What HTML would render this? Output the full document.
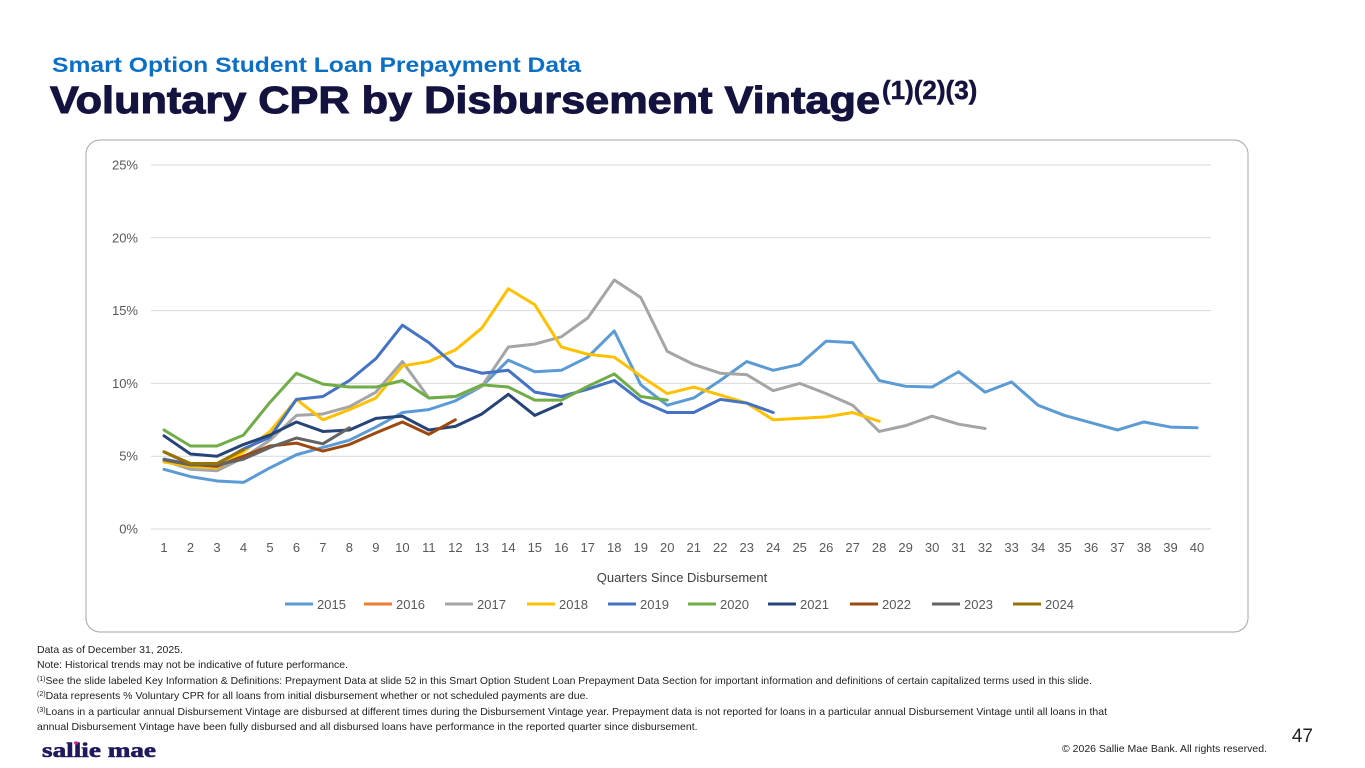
<!DOCTYPE html>
<html><head><meta charset="utf-8"><style>
html,body{margin:0;padding:0;background:#fff;width:1365px;height:768px;overflow:hidden}
svg{display:block;font-family:"Liberation Sans",Arial,sans-serif}
</style></head><body>
<svg id="page" width="1365" height="768" viewBox="0 0 1365 768">
<text x="52" y="72" font-size="21" font-weight="bold" fill="#0b6fc7" textLength="529" lengthAdjust="spacingAndGlyphs">Smart Option Student Loan Prepayment Data</text>
<text x="50" y="113" font-size="38" font-weight="900" fill="#14123f" stroke="#14123f" stroke-width="1"><tspan textLength="830" lengthAdjust="spacingAndGlyphs">Voluntary CPR by Disbursement Vintage</tspan><tspan font-size="26" dy="-14" dx="2" stroke-width="0.5">(1)(2)(3)</tspan></text>
<rect x="86" y="140" width="1162" height="492" rx="14" fill="#fff" stroke="#a6a6a6" stroke-width="1"/>
<g id="grid"></g>
<g id="yticks"></g>
<g id="xticks"></g>
<g id="series"></g>
<text x="682" y="582" font-size="13" fill="#404040" text-anchor="middle">Quarters Since Disbursement</text>
<g id="legend"></g>
<g font-size="10.5" fill="#222">
<text x="37" y="653">Data as of  December 31, 2025.</text>
<text x="37" y="668">Note: Historical trends may not be indicative of future performance.</text>
<text x="37" y="684" textLength="1055" lengthAdjust="spacingAndGlyphs"><tspan font-size="7" dy="-3">(1)</tspan><tspan dy="3">See the slide labeled Key Information &amp; Definitions: Prepayment Data at slide 52 in this Smart Option Student Loan Prepayment Data Section for important information and definitions of certain capitalized terms used in this slide.</tspan></text>
<text x="37" y="699"><tspan font-size="7" dy="-3">(2)</tspan><tspan dy="3">Data represents % Voluntary CPR for all loans from initial disbursement whether or not scheduled payments are due.</tspan></text>
<text x="37" y="715" textLength="1070" lengthAdjust="spacingAndGlyphs"><tspan font-size="7" dy="-3">(3)</tspan><tspan dy="3">Loans in a particular annual Disbursement Vintage are disbursed at different times during the Disbursement Vintage year. Prepayment data is not reported for loans in a particular annual Disbursement Vintage until all loans in that</tspan></text>
<text x="37" y="730">annual Disbursement Vintage have been fully disbursed and all disbursed loans have performance in the reported quarter since disbursement.</text>
</g>
<text x="42" y="757" font-family="'Liberation Serif',serif" font-weight="bold" font-size="21" fill="#1f1a5e" stroke="#1f1a5e" stroke-width="0.6" textLength="114" lengthAdjust="spacingAndGlyphs">sallie mae</text>
<circle cx="76" cy="743" r="1.8" fill="#e0218a"/>
<text x="1313" y="742" font-size="19" fill="#222" text-anchor="end">47</text>
<text x="1267" y="752" font-size="10.5" fill="#222" text-anchor="end">© 2026 Sallie Mae Bank. All rights reserved.</text>
</svg>
<script>
const quarters = Array.from({length:40},(_,i)=>i+1);
const yTicks = [0,5,10,15,20,25];
const years = ["2015","2016","2017","2018","2019","2020","2021","2022","2023","2024"];
const colors = ["#5b9bd5","#ed7d31","#a5a5a5","#ffc000","#4472c4","#70ad47","#264478","#9e480e","#636363","#997300"];
const s2015 = [4.1,3.6,3.3,3.2,4.2,5.1,5.6,6.1,7.0,8.0,8.2,8.8,9.8,11.6,10.8,10.9,11.8,13.6,9.9,8.5,9.0,10.2,11.5,10.9,11.3,12.9,12.8,10.2,9.8,9.75,10.8,9.4,10.1,8.5,7.8,7.3,6.8,7.35,7.0,6.95];
const s2016 = [];
const s2017 = [4.7,4.1,4.0,4.9,6.1,7.8,7.9,8.4,9.4,11.5,9.0,9.1,9.8,12.5,12.7,13.2,14.5,17.1,15.9,12.2,11.3,10.7,10.6,9.5,10.0,9.3,8.5,6.7,7.1,7.75,7.2,6.9];
const s2018 = [4.6,4.3,4.2,5.3,6.7,8.9,7.5,8.2,9.0,11.2,11.5,12.3,13.8,16.5,15.4,12.5,12.0,11.8,10.5,9.3,9.75,9.2,8.65,7.5,7.6,7.7,8.0,7.4];
const s2019 = [4.8,4.45,4.45,5.5,6.3,8.9,9.1,10.2,11.7,14.0,12.8,11.2,10.7,10.9,9.4,9.1,9.6,10.2,8.8,8.0,8.0,8.9,8.65,8.0];
const s2020 = [6.8,5.7,5.7,6.45,8.7,10.7,9.95,9.75,9.75,10.2,9.0,9.1,9.9,9.75,8.85,8.85,9.8,10.65,9.1,8.85];
const s2021 = [6.4,5.15,5.0,5.8,6.45,7.35,6.7,6.8,7.6,7.75,6.8,7.05,7.9,9.25,7.8,8.6];
const s2022 = [5.3,4.45,4.3,5.0,5.7,5.9,5.35,5.8,6.6,7.35,6.5,7.5];
const s2023 = [4.75,4.4,4.4,4.8,5.6,6.25,5.85,6.95];
const s2024 = [5.3,4.5,4.5,5.45];
const seriesData = [s2015,s2016,s2017,s2018,s2019,s2020,s2021,s2022,s2023,s2024];

const NS="http://www.w3.org/2000/svg";
const X0=164,X1=1197,Y0=529,Y1=165;
const xScale=q=>X0+(q-1)*(X1-X0)/39;
const yScale=v=>Y0-(v/25)*(Y0-Y1);
function mk(tag,attrs,parent){const e=document.createElementNS(NS,tag);for(const k in attrs)e.setAttribute(k,attrs[k]);parent.appendChild(e);return e;}
const grid=document.getElementById('grid'),yt=document.getElementById('yticks'),xt=document.getElementById('xticks'),ser=document.getElementById('series'),leg=document.getElementById('legend');
yTicks.forEach(t=>{
  const l=mk('line',{x1:151,x2:1211,y1:yScale(t),y2:yScale(t),stroke:'#d9d9d9','stroke-width':1},grid);
  
  
  const tx=mk('text',{x:138,y:yScale(t)+4.5,'font-size':13,fill:'#595959','text-anchor':'end'},yt);
  tx.textContent=t+'%';
  
  
});
quarters.forEach(q=>{
  const tx=mk('text',{x:xScale(q),y:552,'font-size':13,fill:'#595959','text-anchor':'middle'},xt);
  tx.textContent=q;
  
  
});
seriesData.forEach((d,i)=>{
  if(!d.length)return;
  const pts=d.map((v,j)=>xScale(quarters[j])+','+yScale(v)).join(' ');
  const p=mk('polyline',{points:pts,fill:'none',stroke:colors[i],'stroke-width':3,'stroke-linejoin':'round','stroke-linecap':'round'},ser);
  
  
});
const legX=[285,364,445,527,608,688,768,850,932,1013];
years.forEach((y,i)=>{
  const g=mk('g',{},leg);
  
  
  mk('line',{x1:legX[i],x2:legX[i]+28,y1:604,y2:604,stroke:colors[i],'stroke-width':3},g);
  const t=mk('text',{x:legX[i]+32,y:609,'font-size':13,fill:'#595959'},g);
  t.textContent=y;
});
</script>
</body></html>
